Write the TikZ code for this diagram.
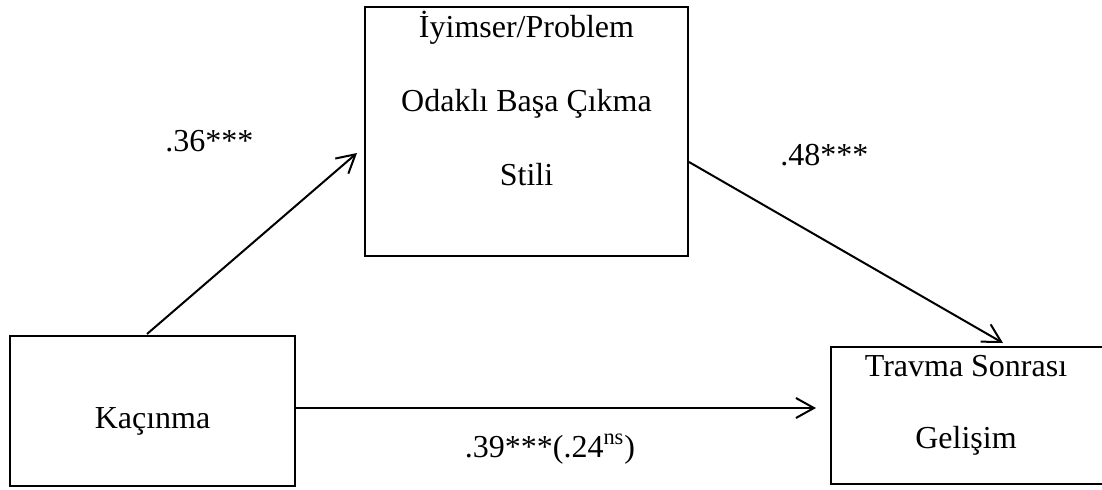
\documentclass[tikz,border=0pt]{standalone}
\usepackage{fontspec}
\setmainfont{Liberation Serif}
\usetikzlibrary{arrows.meta,calc}
\begin{document}
\begin{tikzpicture}[x=0.5pt,y=-0.5pt,
  every node/.style={font=\fontsize{16pt}{20pt}\selectfont},
  varbox/.style={draw,line width=1pt,inner sep=0pt},
  txt/.style={anchor=base,inner sep=0pt},
  path/.style={line width=1pt,-{Straight Barb[length=9pt,width=10pt,line width=1pt]}}]
  \useasboundingbox (0,0) rectangle (1102,489);
  % variable boxes
  \node[varbox,minimum width=161.5pt,minimum height=124.5pt] (med) at (526.5,131.5) {};
  \node[varbox,minimum width=142.5pt,minimum height=75pt] (kac) at (152.5,411) {};
  \node[varbox,minimum width=136pt,minimum height=68.5pt] (tsg) at (967,415.5) {};
  % box texts
  \node[txt] (m1) at (526.5,37) {İyimser/Problem};
  \node[txt] (m2) at (526.5,111) {Odaklı Başa Çıkma};
  \node[txt] (m3) at (526.5,185) {Stili};
  \node[txt] (k1) at (152.5,428) {Kaçınma};
  \node[txt] (t1) at (966,376) {Travma Sonrası};
  \node[txt] (t2) at (966,448) {Gelişim};
  % paths
  \coordinate (a1s) at ($(kac.north west)+(138,-1)$);
  \coordinate (a1e) at ($(med.west)+(-7,21.5)$);
  \draw[path] (a1s) -- (a1e);
  \coordinate (a2s) at ($(med.east)+(0,30.5)$);
  \coordinate (a2e) at ($(tsg.north)+(36,-3)$);
  \draw[path] (a2s) -- (a2e);
  \coordinate (a3s) at ($(kac.east)+(0,-3)$);
  \coordinate (a3e) at ($(tsg.west)+(-14,-7.5)$);
  \draw[path] (a3s) -- (a3e);
  % path coefficients
  \node[txt,anchor=base west] (c1) at (165,151) {.36***};
  \node[txt,anchor=base west] (c2) at (780,165) {.48***};
  \node[txt] (c3) at (550,457) {.39***(.24\textsuperscript{ns})};
\end{tikzpicture}
\end{document}
